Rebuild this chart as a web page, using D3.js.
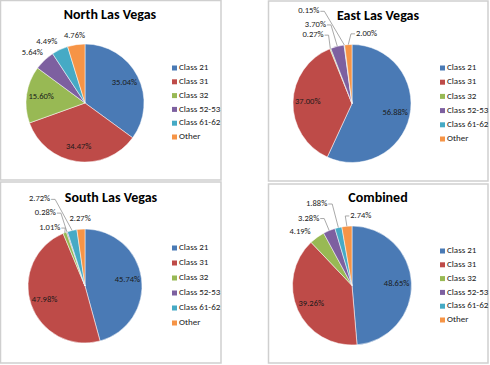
<!DOCTYPE html>
<html>
<head>
<meta charset="utf-8">
<script src="https://cdn.jsdelivr.net/npm/d3@7"></script>
<style>
  body { margin: 0; background: #fff; }
  svg { display: block; }
  text { font-family: Carlito, Calibri, Lato, sans-serif; }
</style>
</head>
<body>
<script>
// chart data
const categories = ["Class 21", "Class 31", "Class 32", "Class 52-53", "Class 61-62", "Other"];
const titles = ["North Las Vegas", "East Las Vegas", "South Las Vegas", "Combined"];
const northValues = [35.04, 34.47, 15.60, 5.64, 4.49, 4.76];
const eastValues = [56.88, 37.00, 0.27, 3.70, 0.15, 2.00];
const southValues = [45.74, 47.98, 1.01, 0.28, 2.72, 2.27];
const combinedValues = [48.65, 39.26, 4.19, 3.28, 1.88, 2.74];
const colors = ["#4a7ab5", "#be4b48", "#98b954", "#7d60a0", "#46aac5", "#f69446"];

// panel boxes and pie placement
const panels = [
    { x: 0.5, y: 0.5, w: 220.5, h: 179.5, cx: 85, cy: 103, r: 59, tx: 110, ty: 16, lx: 172, ly: [68, 137] },
    { x: 268.5, y: 1, w: 219.5, h: 180, cx: 352, cy: 103.5, r: 59, tx: 378, ty: 17, lx: 440, ly: [68, 139] },
    { x: 0.5, y: 182, w: 220.5, h: 181, cx: 85, cy: 286, r: 57, tx: 111, ty: 199, lx: 172, ly: [248, 323] },
    { x: 268.5, y: 184, w: 219.5, h: 179, cx: 352, cy: 285.5, r: 59.5, tx: 378, ty: 199, lx: 440, ly: [251, 320] }
];

// outside label nudges (dx, dy, leader line) per slice index; big slices are labelled inside
const northNudge = { 3: [-4, 1, false], 4: [-8, 3, false], 5: [0, 3, false] };
const eastNudge = { 2: [-13, -2.5, true], 3: [-19, -10, true], 4: [-34, -22, true], 5: [19, 1, true] };
const southNudge = { 2: [-11, 6, true], 3: [-18, -8, true], 4: [-30, -20, true], 5: [0, 1, false] };
const combinedNudge = { 2: [-10, 4.6, false], 3: [-16, -1, true], 4: [-19, -12, true], 5: [15, 1.6, true] };

const allValues = [northValues, eastValues, southValues, combinedValues];
const allNudges = [northNudge, eastNudge, southNudge, combinedNudge];

const width = 490, height = 365;

const svg = d3.select("body").append("svg")
    .attr("width", width)
    .attr("height", height);

const color = d3.scaleOrdinal().domain(categories).range(colors);
const pie = d3.pie().sort(null).value(d => d.value);

panels.forEach((p, i) => {
    const g = svg.append("g");

    g.append("rect")
        .attr("x", p.x).attr("y", p.y)
        .attr("width", p.w).attr("height", p.h)
        .attr("fill", "#fff")
        .attr("stroke", "#cfcfcf")
        .attr("stroke-width", 1.5);

    g.append("text")
        .attr("x", p.tx).attr("y", p.ty)
        .attr("text-anchor", "middle")
        .attr("dominant-baseline", "middle")
        .attr("font-size", 14)
        .attr("font-weight", "bold")
        .attr("fill", "#000")
        .text(titles[i]);

    const data = categories.map((c, k) => ({ cat: c, value: allValues[i][k] }));
    const arcs = pie(data);

    const arc = d3.arc().innerRadius(0).outerRadius(p.r);
    const inArc = d3.arc().innerRadius(p.r * 0.75).outerRadius(p.r * 0.75);
    const outArc = d3.arc().innerRadius(p.r * 1.2).outerRadius(p.r * 1.2);
    const edgeArc = d3.arc().innerRadius(p.r).outerRadius(p.r);

    const pg = g.append("g").attr("transform", `translate(${p.cx},${p.cy})`);

    pg.selectAll("path.slice")
        .data(arcs)
        .enter()
        .append("path")
        .attr("class", "slice")
        .attr("d", arc)
        .attr("fill", d => color(d.data.cat))
        .attr("stroke", "#fff")
        .attr("stroke-width", 0.5);

    const nudge = allNudges[i];
    arcs.forEach((d, k) => {
        let pos, lead = false;
        if (nudge[k]) {
            const c = outArc.centroid(d);
            pos = [c[0] + nudge[k][0], c[1] + nudge[k][1]];
            lead = nudge[k][2];
        } else {
            pos = inArc.centroid(d);
        }
        const t = pg.append("text")
            .attr("x", pos[0]).attr("y", pos[1])
            .attr("text-anchor", "middle")
            .attr("dominant-baseline", "middle")
            .attr("font-size", 8.5)
            .attr("fill", "#1a1a1a")
            .text(d3.format(".2f")(d.data.value) + "%");

        if (lead) {
            const w = t.node().getComputedTextLength();
            const e = edgeArc.centroid(d);
            const side = pos[0] < e[0] ? 1 : -1;
            const ax = pos[0] + side * (w / 2 + 1);
            const line = d3.line();
            pg.insert("path", "text")
                .attr("d", line([[ax, pos[1]], [ax + side * 4, pos[1]], e]))
                .attr("fill", "none")
                .attr("stroke", "#8c8c8c")
                .attr("stroke-width", 0.75);
        }
    });

    // legend
    const ly = d3.scalePoint().domain(categories).range(p.ly);
    const lg = g.selectAll("g.leg")
        .data(categories)
        .enter()
        .append("g")
        .attr("transform", c => `translate(${p.lx},${ly(c)})`);
    lg.append("rect")
        .attr("x", 0).attr("y", -2.5)
        .attr("width", 5).attr("height", 5)
        .attr("fill", c => color(c));
    lg.append("text")
        .attr("x", 7).attr("y", 0)
        .attr("dominant-baseline", "middle")
        .attr("font-size", 9)
        .attr("fill", "#1a1a1a")
        .text(c => c);
});
</script>
</body>
</html>
